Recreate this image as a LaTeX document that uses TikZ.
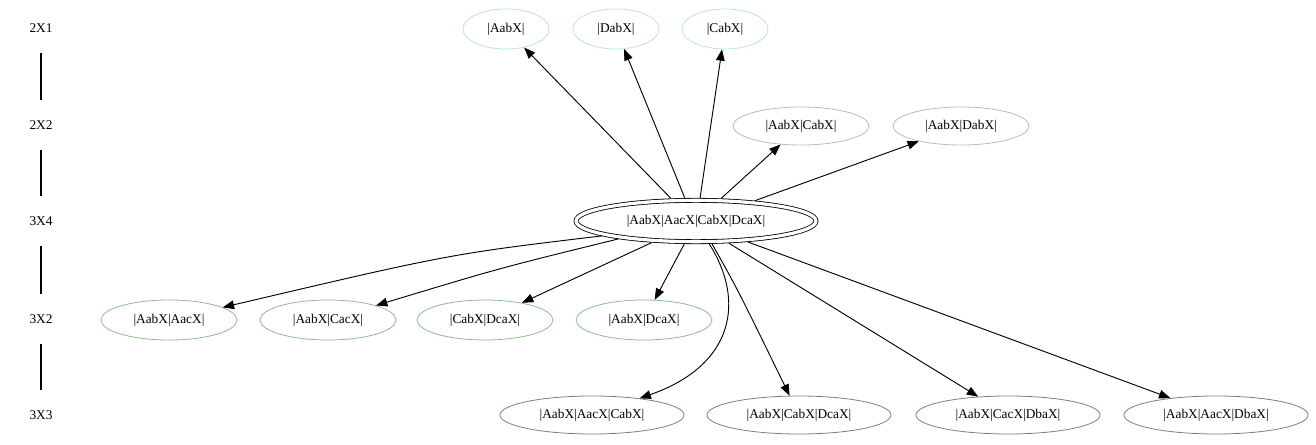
\documentclass[tikz,border=0pt]{standalone}
\usepackage{fontspec}
\setmainfont{Liberation Serif}
\usetikzlibrary{arrows.meta,shapes.geometric}

\definecolor{topc}{RGB}{184,226,230}
\definecolor{midc}{RGB}{200,184,168}
\definecolor{lowc}{RGB}{143,188,143}
\definecolor{botc}{RGB}{112,128,144}

\tikzset{
  rank/.style={inner sep=0pt, minimum height=37.5pt},
  set/.style={ellipse, draw, line width=0.6pt, inner sep=0pt, font=\fontsize{10}{12}\selectfont},
  one/.style={set, draw=topc, minimum width=64.5pt, minimum height=30pt},
  two/.style={set, draw=midc, minimum width=102pt, minimum height=28.5pt},
  three/.style={set, draw=lowc, minimum width=102pt, minimum height=30pt},
  four/.style={set, draw=botc, minimum width=138pt, minimum height=28.5pt}
}

\begin{document}
\begin{tikzpicture}[x=0.75pt, y=-0.75pt, >={Triangle[length=8.5pt,width=6.5pt]}, font=\fontsize{10}{12}\selectfont]
\useasboundingbox (0,0) rectangle (1316,445);

% ranks
\node[rank] (r21) at (41,28)  {2X1};
\node[rank] (r22) at (41,125) {2X2};
\node[rank] (r34) at (41,221) {3X4};
\node[rank] (r32) at (41,319) {3X2};
\node[rank] (r33) at (41,415) {3X3};
\draw[line width=0.8pt] (r21) -- (r22);
\draw[line width=0.8pt] (r22) -- (r34);
\draw[line width=0.8pt] (r34) -- (r32);
\draw[line width=0.8pt] (r32) -- (r33);

% sets
\node[one] (a1) at (506,29) {|AabX|};
\node[one] (a2) at (616,29) {|DabX|};
\node[one] (a3) at (725,29) {|CabX|};

\node[two] (b1) at (801,126) {|AabX|CabX|};
\node[two] (b2) at (961,126) {|AabX|DabX|};

\node[set, draw=black, double, double distance=2.4pt, outer sep=1.9pt,
      minimum width=180pt, minimum height=31pt] (c) at (696,221) {|AabX|AacX|CabX|DcaX|};

\node[three] (d1) at (169,320) {|AabX|AacX|};
\node[three] (d2) at (328,320) {|AabX|CacX|};
\node[three] (d3) at (485,320) {|CabX|DcaX|};
\node[three] (d4) at (644,320) {|AabX|DcaX|};

\node[four] (e1) at (592,415) {|AabX|AacX|CabX|};
\node[four] (e2) at (799,415) {|AabX|CabX|DcaX|};
\node[four] (e3) at (1008,415) {|AabX|CacX|DbaX|};
\node[four] (e4) at (1216,415) {|AabX|AacX|DbaX|};

% edges
\begin{scope}[line width=0.7pt]
\draw[->] (c.138) -- (a1);
\draw[->] (c.116) -- (a2);
\draw[->] (c.80)  -- (a3);
\draw[->] (c.42)  -- (b1);
\draw[->] (c.19)  -- (b2);

\draw[->] (c.189) .. controls (450,254) .. (d1);
\draw[->] (c.193) .. controls (500,268) .. (d2);
\draw[->] (c.206) -- (d3);
\draw[->] (c.243) -- (d4);

\draw[->] (c.300) .. controls (745,300) and (735,365) .. (e1);
\draw[->] (c.305) .. controls (738,290) .. (e2);
\draw[->] (c.326) -- (e3);
\draw[->] (c.338) -- (e4);
\end{scope}
\end{tikzpicture}
\end{document}
